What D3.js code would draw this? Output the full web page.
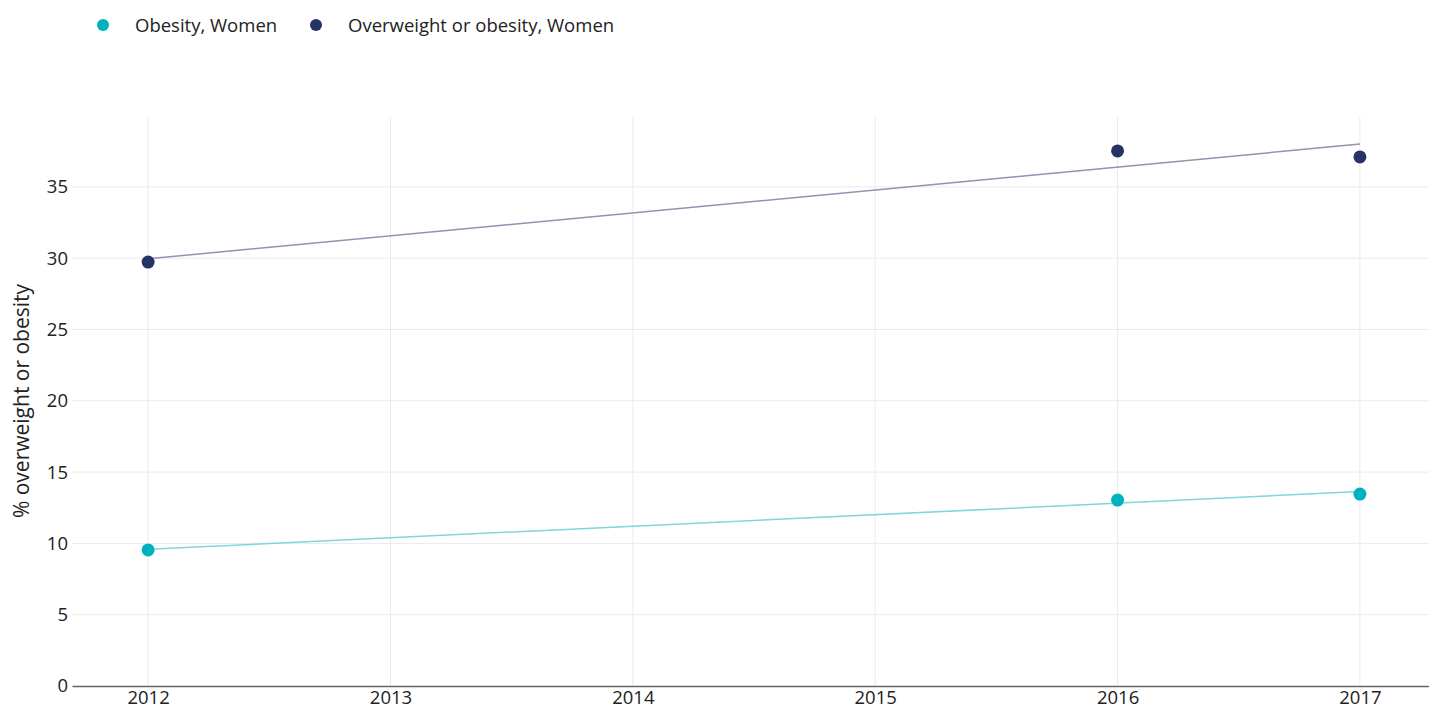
<!DOCTYPE html>
<html><head><meta charset="utf-8">
<script src="https://cdn.jsdelivr.net/npm/d3@7"></script>
<style>body{margin:0;background:#fff;font-family:"Open Sans",Lato,sans-serif;}</style>
</head><body>
<svg id="c" width="1429" height="711"></svg>
<script>
const years = [2012, 2016, 2017];
const obesityWomen = [9.54, 13.04, 13.46];
const overweightWomen = [29.73, 37.52, 37.1];
const seriesNames = ["Obesity, Women", "Overweight or obesity, Women"];
const seriesColors = ["#00b2bd", "#253465"];
const trendColors = ["#7fd6db", "#9393ae"];
const xTicks = [2012, 2013, 2014, 2015, 2016, 2017];
const yTicks = [0, 5, 10, 15, 20, 25, 30, 35];
const yLabel = "% overweight or obesity";

(function(){
const svg = d3.select("#c");
const mL = 72, mR = 1429, mT = 117, mB = 686;
const x = d3.scaleLinear().domain([2011.686, 2017.285]).range([mL, mR]);
const y = d3.scaleLinear().domain([0, 39.9]).range([mB, mT]);
const ff = "'Open Sans',sans-serif";

// grid
svg.append("g").selectAll("line").data(yTicks.filter(d=>d>0)).join("line")
  .attr("x1", mL).attr("x2", mR).attr("y1", d=>y(d)).attr("y2", d=>y(d))
  .attr("stroke", "#ebebeb").attr("stroke-width", 1);
svg.append("g").selectAll("line").data(xTicks).join("line")
  .attr("x1", d=>x(d)).attr("x2", d=>x(d)).attr("y1", mT).attr("y2", mB)
  .attr("stroke", "#ebebeb").attr("stroke-width", 1);

// axes
const yAxis = svg.append("g").attr("transform", `translate(${mL},0)`)
  .call(d3.axisLeft(y).tickValues(yTicks).tickSize(0).tickPadding(4));
yAxis.select(".domain").remove();
yAxis.selectAll("text").attr("font-size", 18.5).attr("fill", "#222").attr("font-family", ff);

const xAxis = svg.append("g").attr("transform", `translate(0,${mB})`)
  .call(d3.axisBottom(x).tickValues(xTicks).tickFormat(d3.format("d")).tickSize(0).tickPadding(5));
xAxis.select(".domain").attr("stroke", "#666").attr("stroke-width", 1.5);
xAxis.selectAll("text").attr("font-size", 18.5).attr("fill", "#222").attr("font-family", ff);

svg.append("text").attr("transform", `translate(29,${401}) rotate(-90)`)
  .attr("text-anchor", "middle").attr("font-size", 21).attr("fill", "#222").attr("font-family", ff).text(yLabel);

// regression trend lines
function regress(xs, ys) {
  const mx = d3.mean(xs), my = d3.mean(ys);
  const b = d3.sum(xs, (v,i)=>(v-mx)*(ys[i]-my)) / d3.sum(xs, v=>(v-mx)*(v-mx));
  return v => my + b*(v-mx);
}
const data = [obesityWomen, overweightWomen];
data.forEach((vals, i) => {
  const f = regress(years, vals);
  const x0 = d3.min(years), x1 = d3.max(years);
  svg.append("line").attr("x1", x(x0)).attr("x2", x(x1)).attr("y1", y(f(x0))).attr("y2", y(f(x1)))
    .attr("stroke", trendColors[i]).attr("stroke-width", 1.5);
});
data.forEach((vals, i) => {
  svg.append("g").selectAll("circle").data(vals).join("circle")
    .attr("cx", (d,j)=>x(years[j])).attr("cy", d=>y(d)).attr("r", 6.5)
    .attr("fill", seriesColors[i]);
});

// legend
const legX = [103, 316];
seriesNames.forEach((n, i) => {
  svg.append("circle").attr("cx", legX[i]).attr("cy", 25).attr("r", 6).attr("fill", seriesColors[i]);
  svg.append("text").attr("x", legX[i] + 32).attr("y", 32).attr("font-size", 18.5).attr("fill", "#222").attr("font-family", ff).text(n);
});
})();
</script>
</body></html>
